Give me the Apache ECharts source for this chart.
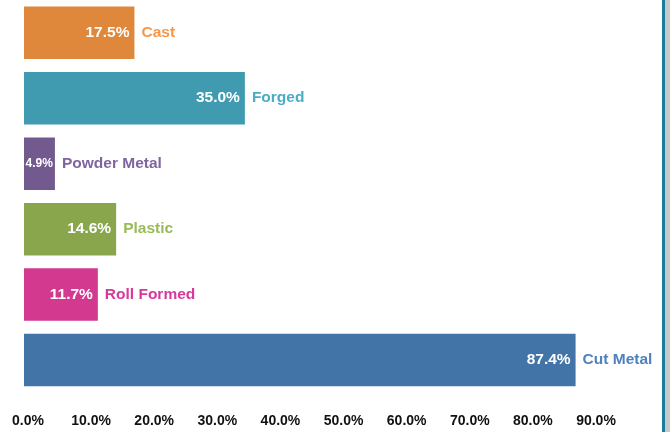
<!DOCTYPE html>
<html>
<head>
<meta charset="utf-8">
<script src="https://cdn.jsdelivr.net/npm/echarts@6/dist/echarts.min.js"></script>
<style>
  html, body { margin: 0; padding: 0; background: #ffffff; }
  #wrap { position: relative; width: 670px; height: 432px; overflow: hidden; }
  #chart { position: absolute; left: 0; top: 0; width: 670px; height: 432px; }
  #edge { position: absolute; left: 662px; top: 0; width: 3px; height: 432px; background: #1B7C9C; }
  #side { position: absolute; left: 665px; top: 0; width: 5px; height: 432px; background: #C9C9C9; }
</style>
</head>
<body>
<div id="wrap">
  <div id="chart"></div>
  <div id="edge"></div>
  <div id="side"></div>
</div>
<script>
// Share of parts by manufacturing process (top to bottom)
const categories = ['Cast', 'Forged', 'Powder Metal', 'Plastic', 'Roll Formed', 'Cut Metal'];
const shares = [17.5, 35.0, 4.9, 14.6, 11.7, 87.4];
const tickValues = [0, 10, 20, 30, 40, 50, 60, 70, 80, 90];

const barColors = ['#DF873B', '#409BB0', '#725A8E', '#8AA64D', '#D2398F', '#4274A8'];
const nameColors = ['#F79646', '#4BACC6', '#8064A2', '#9BBB59', '#D6399B', '#4F81BD'];

const chart = echarts.init(document.getElementById('chart'), null, { renderer: 'canvas' });

const font = "'Liberation Sans', Arial, sans-serif";

const valueData = shares.map((v, i) => ({
  value: v,
  itemStyle: { color: barColors[i] },
  label: { fontSize: v < 8 ? 12 : 15.5, distance: v < 8 ? 2 : 5 }
}));

const nameData = shares.map((v, i) => ({
  value: v,
  label: { color: nameColors[i] }
}));

chart.setOption({
  animation: false,
  grid: { left: 24, right: 78, top: -1.4, bottom: 39.2, containLabel: false },
  xAxis: {
    type: 'value',
    min: tickValues[0],
    max: tickValues[tickValues.length - 1],
    interval: 10,
    axisLine: { show: false },
    axisTick: { show: false },
    splitLine: { show: false },
    axisLabel: {
      margin: 21,
      color: '#111111',
      fontWeight: 'bold',
      fontSize: 14,
      fontFamily: font,
      padding: [0, 0, 0, 8],
      formatter: v => v.toFixed(1) + '%'
    }
  },
  yAxis: {
    type: 'category',
    inverse: true,
    data: categories,
    axisLine: { show: false },
    axisTick: { show: false },
    axisLabel: { show: false },
    splitLine: { show: false }
  },
  series: [
    {
      type: 'bar',
      data: valueData,
      barWidth: 52.5,
      label: {
        show: true,
        position: 'insideRight',
        color: '#ffffff',
        fontWeight: 'bold',
        fontFamily: font,
        formatter: p => p.value.toFixed(1) + '%'
      }
    },
    {
      type: 'bar',
      data: nameData,
      barWidth: 52.5,
      barGap: '-100%',
      itemStyle: { color: 'rgba(0,0,0,0)' },
      silent: true,
      label: {
        show: true,
        position: 'right',
        distance: 7,
        fontWeight: 'bold',
        fontSize: 15.5,
        fontFamily: font,
        formatter: p => categories[p.dataIndex]
      }
    }
  ]
});
</script>
</body>
</html>
